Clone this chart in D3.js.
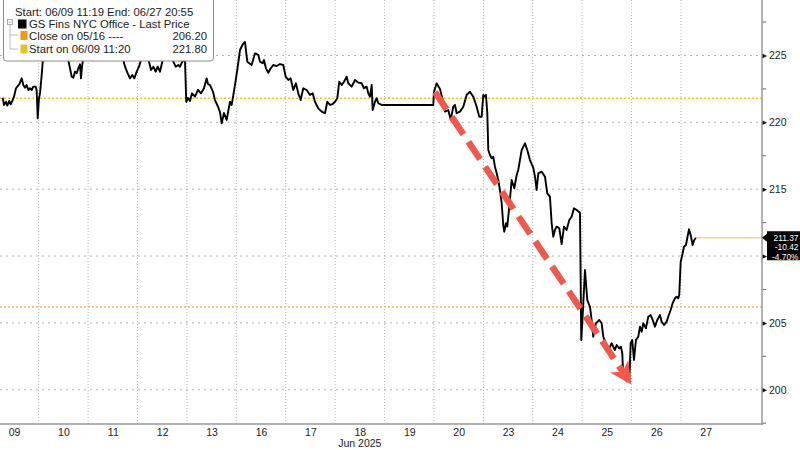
<!DOCTYPE html>
<html><head><meta charset="utf-8">
<script src="https://cdn.jsdelivr.net/npm/d3@7"></script>
<style>body{margin:0;background:#fff;} svg{display:block;font-family:"Liberation Sans",Arial,sans-serif;}</style>
</head><body><svg id="c" width="800" height="450"></svg>
<script>
// ---- data ----
const dayLabels = ["09","10","11","12","13","16","17","18","19","20","23","24","25","26","27"];
const monthLabel = "Jun 2025";
const monthLabelDay = 7; // under "18"
// time in trading-day units (day slot i spans [i, i+1])
const times = [0.272,0.298,0.338,0.365,0.405,0.434,0.474,0.500,0.541,0.567,0.608,0.656,0.689,0.723,0.757,0.790,0.824,0.859,0.891,0.940,0.960,0.980,1.006,1.027,1.061,1.093,
1.148,1.229,1.310,1.391,1.492,1.553,1.599,1.634,1.668,1.701,1.735,1.769,1.802,1.836,1.856,1.877,1.903,
1.998,2.099,2.200,2.302,2.403,2.504,2.605,2.686,2.747,2.802,2.848,2.895,2.935,2.984,3.030,3.071,3.131,3.192,3.233,3.273,3.320,3.368,3.409,3.455,3.502,3.556,3.617,3.678,3.725,3.773,3.826,3.860,3.907,3.961,3.987,
4.022,4.062,4.103,4.164,4.224,4.285,4.346,4.400,4.427,4.467,4.528,4.568,4.629,4.670,4.704,4.750,4.805,4.872,4.906,4.973,5.034,5.074,5.135,5.176,5.222,5.311,5.378,5.445,5.479,5.534,5.560,5.600,5.647,5.696,5.748,5.817,5.884,5.951,5.999,
6.052,6.100,6.153,6.207,6.254,6.303,6.355,6.424,6.491,6.546,6.592,6.659,6.728,6.795,6.841,6.896,6.950,6.997,7.044,7.084,7.133,7.179,7.234,7.266,7.335,7.402,7.469,7.537,7.584,7.638,7.671,7.705,7.740,7.760,7.807,7.841,7.874,7.942,
8.987,9.001,9.055,9.122,9.189,9.223,9.290,9.339,9.392,9.426,9.460,9.527,9.594,9.662,9.729,9.796,9.865,9.918,9.966,9.999,10.033,10.053,10.080,10.100,10.134,10.169,10.201,10.235,10.270,10.302,10.336,10.371,10.403,10.423,10.458,10.484,10.525,10.573,10.626,10.675,10.707,10.776,10.843,10.889,10.944,
11.011,11.045,11.079,11.112,11.180,11.247,11.294,11.348,11.383,11.415,11.449,11.484,11.537,11.585,11.632,11.686,11.739,11.787,11.834,11.889,11.956,11.982,12.006,12.057,12.104,12.158,12.192,12.224,12.279,12.346,12.395,12.427,12.476,12.528,12.563,12.597,12.630,12.664,12.698,12.751,12.785,12.812,12.832,12.881,12.954,12.982,
13.014,13.049,13.089,13.136,13.170,13.204,13.237,13.291,13.338,13.387,13.427,13.474,13.520,13.575,13.609,13.656,13.710,13.742,13.791,13.831,13.878,13.913,13.945,13.965,13.994,14.034,14.061,14.101,14.127,14.162,14.196,14.236,14.269,14.303];
const prices = [221.84,221.30,221.54,221.25,221.60,221.35,221.67,221.92,222.55,222.67,222.85,223.29,222.79,222.59,222.79,222.42,222.55,222.42,222.67,222.67,222.34,220.30,221.80,222.17,223.54,225.04,
226.01,225.56,226.31,225.79,225.41,225.04,224.66,224.04,223.41,223.34,223.79,223.67,224.04,224.34,223.29,224.16,224.81,
225.56,226.01,225.41,225.79,225.26,225.71,225.19,225.04,224.16,223.67,223.29,223.54,223.29,223.79,224.16,224.66,225.26,224.96,224.54,223.92,224.16,223.79,224.16,223.79,224.54,225.11,225.41,225.04,224.54,224.16,224.29,224.16,224.54,224.66,221.54,
221.82,221.60,222.17,221.92,222.42,222.17,222.55,223.29,222.87,222.79,222.29,221.67,221.17,220.77,219.93,220.70,220.18,221.54,221.30,222.79,224.29,225.41,225.86,226.01,224.54,224.29,225.16,225.04,224.54,224.42,224.66,224.04,223.71,224.04,224.29,224.21,224.36,224.29,223.41,
223.17,223.29,222.42,222.92,222.17,221.67,222.55,222.42,222.05,222.17,221.54,221.05,220.80,220.68,221.54,221.30,221.37,221.54,221.80,223.04,222.79,223.04,223.41,222.92,222.67,223.17,222.97,222.92,222.55,222.67,222.17,221.92,222.79,220.92,221.54,221.80,221.43,221.30,
221.30,222.29,222.92,222.49,221.52,220.80,220.92,220.20,221.17,221.30,220.68,220.80,221.17,222.05,222.29,221.92,221.17,220.42,220.42,222.05,221.92,222.05,220.68,217.93,217.56,217.31,217.43,216.68,216.19,215.69,214.94,213.95,212.32,211.82,212.45,212.20,213.69,215.69,215.07,216.06,216.44,217.93,218.43,217.93,217.18,
216.59,215.94,214.94,216.19,216.31,215.94,214.69,214.44,212.45,211.45,211.95,212.20,212.08,210.90,212.20,211.95,212.70,212.94,213.57,213.44,213.24,203.72,205.22,208.96,206.71,206.21,205.22,203.97,204.97,205.22,204.97,203.97,203.48,202.97,203.22,203.48,203.22,202.97,203.35,203.10,203.22,202.73,200.98,200.73,200.60,203.48,
203.72,202.23,203.72,203.97,204.72,204.34,204.97,204.60,205.46,205.59,205.22,204.72,205.22,205.59,205.09,204.84,205.09,205.46,205.97,206.47,206.84,206.96,206.84,207.09,209.58,210.21,210.70,210.83,211.33,212.00,211.58,210.83,211.20,211.37];
const yTicks = [200,205,210,215,220,225];
const yHiddenLabels = [210]; // covered by the last-value box in the reference
const yMinorTicks = [197.5,202.5,207.5,212.5,217.5,222.5,227.5];
const closeRef = 206.20;
const startRef = 221.80;
const lastValue = 211.37;
const lastLabels = ["211.37","-10.42","-4.70%"];
const legendTitle = "Start: 06/09 11:19 End: 06/27 20:55";
const legendItems = [
  {name:"GS Fins NYC Office - Last Price", value:"", color:"#000000", level:0},
  {name:"Close on 05/16 ----", value:"206.20", color:"#F39A0F", level:1},
  {name:"Start on 06/09 11:20", value:"221.80", color:"#E3C51A", level:1}
];
const arrowFrom = [9.02, 222.27];
const arrowTo = [12.947, 200.66];

// ---- layout ----
const W = 762, H = 424;
const svg = d3.select("#c");
const x = d3.scaleLinear().domain([0.217, 15.64]).range([0, W]);
const y = d3.scaleLinear().domain([197.44, 229.15]).range([H, 0]);

// grid
const grid = svg.append("g");
grid.selectAll("line.v").data(d3.range(1, dayLabels.length)).join("line")
  .attr("x1", d => x(d)).attr("x2", d => x(d)).attr("y1", 0).attr("y2", H)
  .attr("stroke", "#b5b5b5").attr("stroke-width", 1).attr("stroke-dasharray", "1,2");
grid.selectAll("line.h").data(yTicks).join("line")
  .attr("x1", 0).attr("x2", W).attr("y1", d => y(d)).attr("y2", d => y(d))
  .attr("stroke", "#b0b0b0").attr("stroke-width", 1).attr("stroke-dasharray", "2,4");

// reference lines
svg.append("line").attr("x1", 0).attr("x2", W).attr("y1", y(startRef)).attr("y2", y(startRef))
  .attr("stroke", "#EDCB10").attr("stroke-width", 1.6).attr("stroke-dasharray", "2,2");
svg.append("line").attr("x1", 0).attr("x2", W).attr("y1", y(closeRef)).attr("y2", y(closeRef))
  .attr("stroke", "#F9BC7C").attr("stroke-width", 1.6).attr("stroke-dasharray", "2,2");

// price line
const data = times.map((t, i) => ({t, p: prices[i]}));
svg.append("path").datum(data)
  .attr("fill", "none").attr("stroke", "#000").attr("stroke-width", 1.9).attr("stroke-linejoin", "round")
  .attr("d", d3.line().x(d => x(d.t)).y(d => y(d.p)));

// last value line
svg.append("line").attr("x1", x(times[times.length-1])).attr("x2", W)
  .attr("y1", y(lastValue)).attr("y2", y(lastValue))
  .attr("stroke", "#F2DA80").attr("stroke-width", 1.6);

// arrow annotation
const defs = svg.append("defs");
defs.append("marker").attr("id", "ah").attr("viewBox", "0 0 10 10").attr("refX", 8).attr("refY", 5)
  .attr("markerWidth", 3.4).attr("markerHeight", 3.4).attr("orient", "auto")
  .append("path").attr("d", "M0,0 L10,5 L0,10 L3,5 Z").attr("fill", "#F3574C");
svg.append("line")
  .attr("x1", x(arrowFrom[0])).attr("y1", y(arrowFrom[1]))
  .attr("x2", x(arrowTo[0])).attr("y2", y(arrowTo[1]))
  .attr("stroke", "#F3574C").attr("stroke-width", 6.5).attr("stroke-dasharray", "21,9")
  .attr("marker-end", "url(#ah)");

// axes
const ax = svg.append("g").attr("transform", `translate(${W},0)`);
ax.call(d3.axisRight(y).tickValues(yTicks).tickSize(0).tickPadding(7)
  .tickFormat(d => yHiddenLabels.includes(d) ? "" : d3.format("d")(d)));
ax.select(".domain").remove();
ax.selectAll("text").attr("font-size", 10.5).attr("fill", "#222").attr("font-family", "Liberation Sans, Arial, sans-serif");
ax.selectAll(".tick").append("path").attr("d", "M0,-2.5 L5,0 L0,2.5 Z").attr("fill", "#111");
ax.selectAll("line.minor").data(yMinorTicks).join("line").attr("class", "minor")
  .attr("x1", 0).attr("x2", 4).attr("y1", d => y(d)).attr("y2", d => y(d)).attr("stroke", "#666");
svg.append("line").attr("x1", W).attr("x2", W).attr("y1", 0).attr("y2", H + 1).attr("stroke", "#999").attr("stroke-width", 1.5);

const bx = svg.append("g").attr("transform", `translate(0,${H})`);
bx.call(d3.axisBottom(x).tickValues(d3.range(dayLabels.length).map(i => i + 0.5))
  .tickFormat((d, i) => dayLabels[i]).tickSize(0).tickPadding(5));
bx.select(".domain").remove();
bx.selectAll("text").attr("font-size", 10.5).attr("fill", "#222").attr("font-family", "Liberation Sans, Arial, sans-serif");
svg.append("line").attr("x1", 0).attr("x2", W + 1).attr("y1", H).attr("y2", H).attr("stroke", "#999").attr("stroke-width", 1.5);
svg.append("text").attr("x", x(monthLabelDay + 0.5)).attr("y", 447).attr("text-anchor", "middle")
  .attr("font-size", 10.5).attr("fill", "#222").text(monthLabel);

// last value label
const ly = y(lastValue);
const lg = svg.append("g");
lg.append("path").attr("d", `M${W},${ly} L${W+5},${ly-4} L${W+5},${ly-6.5} L800,${ly-6.5} L800,${ly+22.5} L${W+5},${ly+22.5} L${W+5},${ly+4} Z`).attr("fill", "#000");
lastLabels.forEach((s, i) => {
  lg.append("text").attr("x", 798.5).attr("y", ly + 3 + i * 9.6).attr("text-anchor", "end")
    .attr("font-size", 8.4).attr("fill", "#fff").text(s);
});

// legend
const leg = svg.append("g");
leg.append("rect").attr("x", 3.5).attr("y", -3).attr("width", 210).attr("height", 64).attr("rx", 3)
  .attr("fill", "#fff").attr("stroke", "#8c8c8c").attr("stroke-width", 1);
leg.append("text").attr("x", 15).attr("y", 16).attr("font-size", 11.3).attr("fill", "#222").text(legendTitle);
// tree
leg.append("rect").attr("x", 7.5).attr("y", 19.5).attr("width", 5).attr("height", 5).attr("fill", "#fff").attr("stroke", "#999").attr("stroke-width", 0.8);
leg.append("line").attr("x1", 8.5).attr("x2", 11.5).attr("y1", 22).attr("y2", 22).attr("stroke", "#999").attr("stroke-width", 0.8);
leg.append("path").attr("d", "M10,25 V49 H18 M10,35 H18").attr("fill", "none").attr("stroke", "#aaa").attr("stroke-width", 0.8);
const rowY = [24, 35.5, 49];
legendItems.forEach((it, i) => {
  const sx = it.level === 0 ? 18 : 20.5;
  leg.append("rect").attr("x", sx).attr("y", rowY[i] - 4.5).attr("width", it.level === 0 ? 8.5 : 7).attr("height", 9).attr("fill", it.color);
  leg.append("text").attr("x", 29).attr("y", rowY[i] + 4).attr("font-size", 11.3).attr("fill", "#222").text(it.name);
  if (it.value) leg.append("text").attr("x", 207).attr("y", rowY[i] + 4).attr("text-anchor", "end").attr("font-size", 11.3).attr("fill", "#222").text(it.value);
});
</script></body></html>
